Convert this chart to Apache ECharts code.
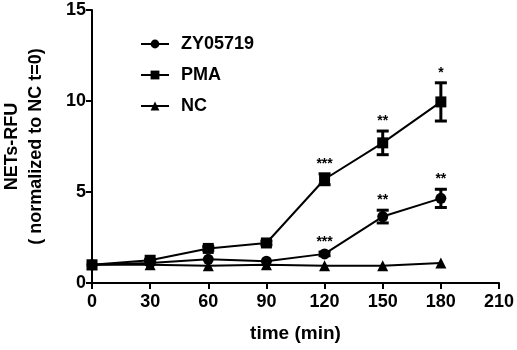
<!DOCTYPE html>
<html>
<head>
<meta charset="utf-8">
<script src="https://cdn.jsdelivr.net/npm/echarts@6/dist/echarts.min.js"></script>
<style>
  html, body { margin: 0; padding: 0; background: #fff; }
  #chart { width: 517px; height: 350px; }
</style>
</head>
<body>
<div id="chart"></div>
<script>
const times = [0, 30, 60, 90, 120, 150, 180]
const zyMean = [1.0, 1.1, 1.3, 1.2, 1.6, 3.65, 4.65]
const zyErr = [0, 0, 0, 0, 0.1, 0.35, 0.5]
const zySig = ['', '', '', '', '***', '**', '**']
const pmaMean = [1.0, 1.25, 1.9, 2.2, 5.7, 7.7, 9.95]
const pmaErr = [0, 0.05, 0.1, 0.1, 0.3, 0.65, 1.05]
const pmaSig = ['', '', '', '', '***', '**', '*']
const ncMean = [1.0, 1.0, 0.95, 1.0, 0.95, 0.95, 1.1]

const FONT = 'Liberation Sans, Arial, sans-serif'

const toPairs = (ys) => times.map((t, i) => [t, ys[i]])
const toErr = (ys, errs, sig) => times.map((t, i) => [t, ys[i], errs[i], sig[i]])

function renderErr(params, api) {
  const x = api.value(0), y = api.value(1), e = api.value(2)
  const sig = api.value(3)
  const top = api.coord([x, y + e])
  const bot = api.coord([x, y - e])
  const cap = 6
  const children = []
  if (e > 0) {
    const style = { stroke: '#000', lineWidth: 3 }
    children.push(
      { type: 'line', shape: { x1: top[0], y1: top[1], x2: bot[0], y2: bot[1] }, style },
      { type: 'line', shape: { x1: top[0] - cap, y1: top[1], x2: top[0] + cap, y2: top[1] }, style },
      { type: 'line', shape: { x1: bot[0] - cap, y1: bot[1], x2: bot[0] + cap, y2: bot[1] }, style }
    )
  }
  if (sig) {
    const c = api.coord([x, y])
    const ty = e > 0 ? top[1] - 3 : c[1] - 7
    children.push({
      type: 'text',
      style: { text: sig, x: top[0], y: ty, align: 'center', verticalAlign: 'bottom',
        font: 'bold 14px ' + FONT, fill: '#000' }
    })
  }
  return { type: 'group', children }
}

const lineBase = {
  type: 'line',
  lineStyle: { color: '#000', width: 2 },
  itemStyle: { color: '#000' },
  symbolSize: 11,
  z: 3,
}

const chart = echarts.init(document.getElementById('chart'), null, { renderer: 'canvas' })
chart.setOption({
  animation: false,
  backgroundColor: '#fff',
  grid: { left: 92, right: 18, top: 10, bottom: 67, outerBoundsMode: 'none', containLabel: false },
  legend: {
    orient: 'vertical',
    left: 135,
    top: 30,
    itemWidth: 28,
    itemHeight: 11,
    itemGap: 13,
    data: ['ZY05719', 'PMA', 'NC'],
    textStyle: { color: '#000', fontFamily: FONT, fontWeight: 'bold', fontSize: 18, padding: [0, 0, 0, 7] },
  },
  xAxis: {
    type: 'value',
    min: 0, max: 210, interval: 30,
    name: 'time (min)',
    nameLocation: 'middle',
    nameGap: 41,
    nameTextStyle: { color: '#000', fontFamily: FONT, fontWeight: 'bold', fontSize: 19 },
    axisLine: { lineStyle: { color: '#000', width: 2 } },
    axisTick: { length: 6, lineStyle: { color: '#000', width: 2 } },
    axisLabel: { color: '#000', fontFamily: FONT, fontWeight: 'bold', fontSize: 18, margin: 10 },
    splitLine: { show: false },
  },
  yAxis: {
    type: 'value',
    min: 0, max: 15, interval: 5,
    name: 'NETs-RFU\n( normalized to NC t=0)',
    nameLocation: 'middle',
    nameGap: 44,
    nameRotate: 90,
    nameTextStyle: { color: '#000', fontFamily: FONT, fontWeight: 'bold', fontSize: 18, lineHeight: 24 },
    axisLine: { show: true, lineStyle: { color: '#000', width: 2 } },
    axisTick: { show: true, length: 6, lineStyle: { color: '#000', width: 2 } },
    axisLabel: { color: '#000', fontFamily: FONT, fontWeight: 'bold', fontSize: 18, margin: 6 },
    splitLine: { show: false },
  },
  series: [
    { ...lineBase, name: 'ZY05719', symbol: 'circle', data: toPairs(zyMean) },
    { ...lineBase, name: 'PMA', symbol: 'rect', data: toPairs(pmaMean) },
    { ...lineBase, name: 'NC', symbol: 'triangle', data: toPairs(ncMean) },
    { type: 'custom', renderItem: renderErr, data: toErr(zyMean, zyErr, zySig), z: 4 },
    { type: 'custom', renderItem: renderErr, data: toErr(pmaMean, pmaErr, pmaSig), z: 4 },
  ],
})
</script>
</body>
</html>
